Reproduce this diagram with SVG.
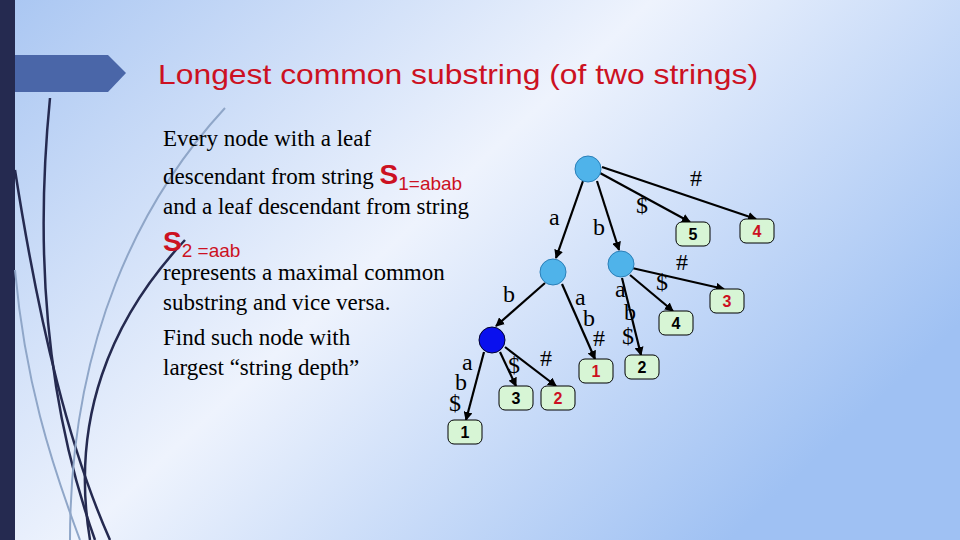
<svg xmlns="http://www.w3.org/2000/svg" width="960" height="540" viewBox="0 0 960 540">
<defs>
<linearGradient id="bg" x1="0" y1="0" x2="1" y2="0.6">
<stop offset="0" stop-color="#a9c6f2"/><stop offset="0.5" stop-color="#eef3fd"/><stop offset="1" stop-color="#9fc1f3"/>
</linearGradient>
<marker id="ar" markerWidth="9" markerHeight="9" refX="8" refY="4.5" orient="auto" markerUnits="userSpaceOnUse"><path d="M0,0 L9,4.5 L0,9 z" fill="#000"/></marker>
</defs>
<style>
.e{stroke:#000;stroke-width:2.2;fill:none;marker-end:url(#ar)}
.n{fill:#4fb3ea;stroke:#2a7fb8;stroke-width:1}
.lf{fill:#d7f5d5;stroke:#000;stroke-width:1}
.lt{font-family:"Liberation Sans",Arial,sans-serif;font-size:16px;font-weight:bold;text-anchor:middle}
.el{font-family:"Liberation Serif",serif;font-size:24px}
.tx{font-family:"Liberation Serif",serif;font-size:23px;fill:#000}
.red{fill:#cc1122;font-family:"Liberation Sans",Arial,sans-serif}
</style>
<rect width="960" height="540" fill="url(#bg)"/>
<rect x="0" y="0" width="15" height="540" fill="#252a50"/>
<path d="M15,55 H108 L126,73 L108,92 H15 Z" fill="#4a66a8"/>
<g fill="none" stroke="#252a50" stroke-width="2.5">
<path d="M50,98 C35,250 45,400 95,540"/>
<path d="M15,170 C40,330 70,450 110,540"/>
<path d="M185,240 C110,320 70,420 90,540"/>
</g>
<g fill="none" stroke="#8fa6c8" stroke-width="2">
<path d="M225,108 C140,200 70,340 70,540"/>
<path d="M15,270 C25,380 50,460 80,540"/>
</g>
<text x="158" y="84" font-family="Liberation Sans,Arial,sans-serif" font-size="28" textLength="600" lengthAdjust="spacingAndGlyphs" fill="#cc1122">Longest common substring (of two strings)</text>
<g class="tx">
<text x="163" y="146">Every node with a leaf</text>
<text x="163" y="184">descendant from string <tspan class="red" font-size="28" font-weight="bold">S</tspan><tspan class="red" font-size="19" dy="6">1=abab</tspan></text>
<text x="163" y="214">and a leaf descendant from string</text>
<text x="163" y="251"><tspan class="red" font-size="28" font-weight="bold">S</tspan><tspan class="red" font-size="19" dy="6">2 =aab</tspan></text>
<text x="163" y="280">represents a maximal common</text>
<text x="163" y="310">substring and vice versa.</text>
<text x="163" y="345">Find such node with</text>
<text x="163" y="375">largest “string depth”</text>
</g>
<g id="connectors">
<line class="e" x1="583" y1="181" x2="556" y2="258"/>
<line class="e" x1="597" y1="181" x2="619" y2="250"/>
<line class="e" x1="600" y1="173" x2="690" y2="222"/>
<line class="e" x1="602" y1="167" x2="756" y2="219"/>
<line class="e" x1="545" y1="283" x2="496" y2="326"/>
<line class="e" x1="562" y1="284" x2="595" y2="359"/>
<line class="e" x1="632" y1="268" x2="724" y2="289"/>
<line class="e" x1="630" y1="275" x2="673" y2="311"/>
<line class="e" x1="622" y1="278" x2="641" y2="355"/>
<line class="e" x1="484" y1="352" x2="466" y2="420"/>
<line class="e" x1="500" y1="352" x2="516" y2="386"/>
<line class="e" x1="505" y1="347" x2="556" y2="386"/>
</g>
<g class="el">
<text x="549" y="225">a</text><text x="593" y="235">b</text>
<text x="636" y="213">$</text><text x="690" y="186">#</text>
<text x="503" y="302">b</text><text x="575" y="305">a</text><text x="583" y="326">b</text><text x="593" y="346">#</text>
<text x="615" y="297">a</text><text x="624" y="320">b</text><text x="622" y="344">$</text>
<text x="656" y="290">$</text><text x="676" y="270">#</text>
<text x="462" y="370">a</text><text x="455" y="390">b</text><text x="449" y="411">$</text>
<text x="508" y="373">$</text><text x="540" y="366">#</text>
</g>
<g id="root"><circle class="n" cx="588" cy="169" r="13"/></g>
<g id="na"><circle class="n" cx="553" cy="272" r="13"/></g>
<g id="nb"><circle class="n" cx="621" cy="264" r="13"/></g>
<g id="nab"><circle cx="492" cy="340" r="13" fill="#0a10ee" stroke="#000030"/></g>
<g id="l5"><rect class="lf" x="676" y="222" width="34" height="24" rx="6"/><text class="lt" x="693" y="240">5</text></g>
<g id="l4a"><rect class="lf" x="740" y="219" width="34" height="24" rx="6"/><text class="lt" x="757" y="237" fill="#cc1122">4</text></g>
<g id="l3a"><rect class="lf" x="710" y="289" width="34" height="24" rx="6"/><text class="lt" x="727" y="307" fill="#cc1122">3</text></g>
<g id="l4b"><rect class="lf" x="659" y="311" width="34" height="24" rx="6"/><text class="lt" x="676" y="329">4</text></g>
<g id="l2a"><rect class="lf" x="625" y="355" width="34" height="24" rx="6"/><text class="lt" x="642" y="373">2</text></g>
<g id="l1a"><rect class="lf" x="579" y="359" width="34" height="24" rx="6"/><text class="lt" x="596" y="377" fill="#cc1122">1</text></g>
<g id="l3b"><rect class="lf" x="499" y="386" width="34" height="24" rx="6"/><text class="lt" x="516" y="404">3</text></g>
<g id="l2b"><rect class="lf" x="541" y="386" width="34" height="24" rx="6"/><text class="lt" x="558" y="404" fill="#cc1122">2</text></g>
<g id="l1b"><rect class="lf" x="448" y="420" width="34" height="24" rx="6"/><text class="lt" x="465" y="438">1</text></g>
</svg>
